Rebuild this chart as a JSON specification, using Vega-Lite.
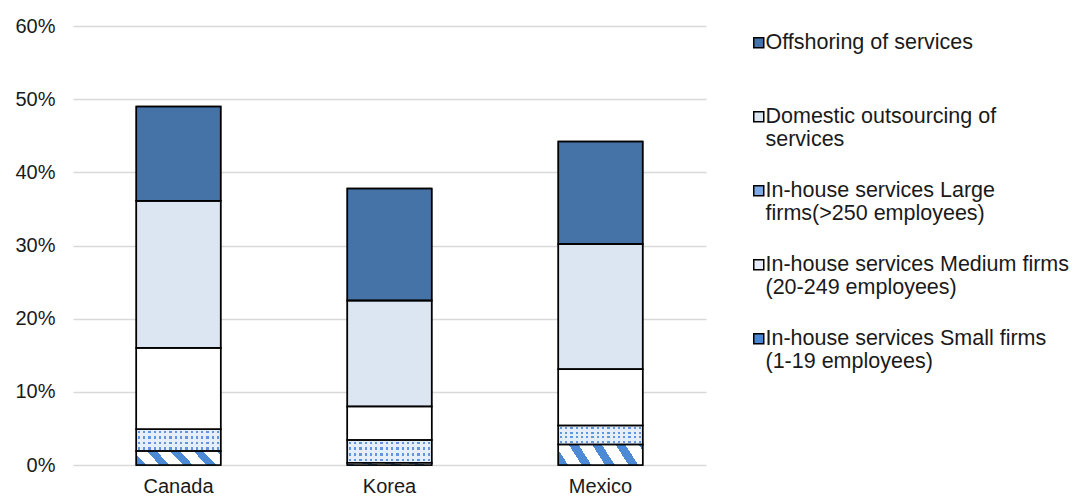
{
  "$schema": "https://vega.github.io/schema/vega-lite/v6.json",
  "width": 633,
  "height": 439,
  "autosize": {"type": "none"},
  "padding": {"left": 73, "top": 26, "right": 366, "bottom": 35},
  "background": "#ffffff",
  "config": {
    "view": {"stroke": null},
    "font": "Liberation Sans",
    "axis": {"labelFont": "Liberation Sans", "labelFontSize": 20, "labelColor": "#1a1a1a", "title": null, "labelOverlap": false},
    "legend": {"labelFont": "Liberation Sans", "labelFontSize": 21.5, "labelColor": "#1a1a1a"},
    "style": {"guide-label": {"lineHeight": 23}}
  },
  "data": {
    "values": [
      {"country": "Canada", "category": "In-house services Small firms (1-19 employees)", "value": 0.019},
      {"country": "Canada", "category": "In-house services Medium firms (20-249 employees)", "value": 0.030},
      {"country": "Canada", "category": "In-house services Large firms(>250 employees)", "value": 0.111},
      {"country": "Canada", "category": "Domestic outsourcing of services", "value": 0.201},
      {"country": "Canada", "category": "Offshoring of services", "value": 0.129},
      {"country": "Korea", "category": "In-house services Small firms (1-19 employees)", "value": 0.003},
      {"country": "Korea", "category": "In-house services Medium firms (20-249 employees)", "value": 0.031},
      {"country": "Korea", "category": "In-house services Large firms(>250 employees)", "value": 0.046},
      {"country": "Korea", "category": "Domestic outsourcing of services", "value": 0.145},
      {"country": "Korea", "category": "Offshoring of services", "value": 0.153},
      {"country": "Mexico", "category": "In-house services Small firms (1-19 employees)", "value": 0.028},
      {"country": "Mexico", "category": "In-house services Medium firms (20-249 employees)", "value": 0.026},
      {"country": "Mexico", "category": "In-house services Large firms(>250 employees)", "value": 0.077},
      {"country": "Mexico", "category": "Domestic outsourcing of services", "value": 0.171},
      {"country": "Mexico", "category": "Offshoring of services", "value": 0.140}
    ]
  },
  "transform": [
    {"calculate": "indexof(['In-house services Small firms (1-19 employees)', 'In-house services Medium firms (20-249 employees)', 'In-house services Large firms(>250 employees)', 'Domestic outsourcing of services', 'Offshoring of services'], datum.category)", "as": "rank"},
    {"stack": "value", "groupby": ["country"], "sort": [{"field": "rank", "order": "ascending"}], "as": ["v0", "v1"]}
  ],
  "encoding": {
    "x": {
      "field": "country", "type": "nominal",
      "scale": {"paddingInner": 0.6, "paddingOuter": 0.3},
      "axis": {"labelAngle": 0, "domain": false, "ticks": false, "tickSize": 0, "labelPadding": 11, "grid": false}
    },
    "y": {
      "field": "v0", "type": "quantitative",
      "scale": {"domain": [0, 0.6], "nice": false},
      "axis": {"format": ".0%", "values": [0, 0.1, 0.2, 0.3, 0.4, 0.5, 0.6], "domain": false, "ticks": false, "tickSize": 0, "labelPadding": 18, "grid": true, "gridColor": "#d9d9d9", "gridWidth": 1.5}
    },
    "y2": {"field": "v1"}
  },
  "layer": [
    {
      "mark": {"type": "bar", "stroke": "#000000", "strokeWidth": 1.5},
      "encoding": {
        "color": {
          "field": "category", "type": "nominal",
          "scale": {
            "domain": ["Offshoring of services", "Domestic outsourcing of services", "In-house services Large firms(>250 employees)", "In-house services Medium firms (20-249 employees)", "In-house services Small firms (1-19 employees)"],
            "range": ["#4572a7", "#dce6f2", "#7fa9e4", "#e4edf9", "#4a86d4"]
          },
          "legend": {
            "title": null,
            "orient": "none",
            "legendX": 675,
            "legendY": 6,
            "padding": 0,
            "symbolType": "square",
            "symbolSize": 100,
            "symbolStrokeColor": "#000000",
            "symbolStrokeWidth": 1.5,
            "symbolOpacity": 1,
            "labelOffset": -4,
            "labelLimit": 400,
            "rowPadding": 28,
            "labelBaseline": "middle",
            "labelExpr": "datum.label == 'Offshoring of services' ? ['Offshoring of services', ''] : datum.label == 'Domestic outsourcing of services' ? ['Domestic outsourcing of', 'services'] : datum.label == 'In-house services Large firms(>250 employees)' ? ['In-house services Large', 'firms(>250 employees)'] : datum.label == 'In-house services Medium firms (20-249 employees)' ? ['In-house services Medium firms', '(20-249 employees)'] : ['In-house services Small firms', '(1-19 employees)']"
          }
        }
      }
    },
    {
      "transform": [{"filter": "datum.category == 'In-house services Large firms(>250 employees)'"}],
      "mark": {"type": "bar", "fill": "#ffffff"}
    },
    {
      "transform": [{"filter": "datum.category == 'In-house services Small firms (1-19 employees)'"}],
      "mark": {
        "type": "bar",
        "fill": {
          "gradient": "linear", "x1": 0, "y1": 1, "x2": 1.128, "y2": 0.825,
          "stops": [
            {"offset": 0, "color": "#4d8ad6"}, {"offset": 0.1, "color": "#4d8ad6"},
            {"offset": 0.1, "color": "#ffffff"}, {"offset": 0.24, "color": "#ffffff"},
            {"offset": 0.24, "color": "#4d8ad6"}, {"offset": 0.34, "color": "#4d8ad6"},
            {"offset": 0.34, "color": "#ffffff"}, {"offset": 0.48, "color": "#ffffff"},
            {"offset": 0.48, "color": "#4d8ad6"}, {"offset": 0.58, "color": "#4d8ad6"},
            {"offset": 0.58, "color": "#ffffff"}, {"offset": 0.72, "color": "#ffffff"},
            {"offset": 0.72, "color": "#4d8ad6"}, {"offset": 0.82, "color": "#4d8ad6"},
            {"offset": 0.82, "color": "#ffffff"}, {"offset": 0.96, "color": "#ffffff"},
            {"offset": 0.96, "color": "#4d8ad6"}, {"offset": 1, "color": "#4d8ad6"}
          ]
        }
      }
    },
    {
      "transform": [{"filter": "datum.category == 'In-house services Medium firms (20-249 employees)'"}],
      "mark": {"type": "bar", "fill": "#6196de"}
    },
    {
      "transform": [{"filter": "datum.category == 'In-house services Medium firms (20-249 employees)'"}],
      "mark": {
        "type": "bar",
        "fill": {
          "gradient": "linear", "x1": 0, "y1": 0, "x2": 0, "y2": 1,
          "stops": [
            {"offset": 0, "color": "#e6eef9"}, {"offset": 0.07, "color": "#e6eef9"},
            {"offset": 0.07, "color": "rgba(230,238,249,0)"}, {"offset": 0.18, "color": "rgba(230,238,249,0)"},
            {"offset": 0.18, "color": "#e6eef9"}, {"offset": 0.32, "color": "#e6eef9"},
            {"offset": 0.32, "color": "rgba(230,238,249,0)"}, {"offset": 0.43, "color": "rgba(230,238,249,0)"},
            {"offset": 0.43, "color": "#e6eef9"}, {"offset": 0.57, "color": "#e6eef9"},
            {"offset": 0.57, "color": "rgba(230,238,249,0)"}, {"offset": 0.68, "color": "rgba(230,238,249,0)"},
            {"offset": 0.68, "color": "#e6eef9"}, {"offset": 0.82, "color": "#e6eef9"},
            {"offset": 0.82, "color": "rgba(230,238,249,0)"}, {"offset": 0.93, "color": "rgba(230,238,249,0)"},
            {"offset": 0.93, "color": "#e6eef9"}, {"offset": 1, "color": "#e6eef9"}
          ]
        }
      }
    },
    {
      "transform": [{"filter": "datum.category == 'In-house services Medium firms (20-249 employees)'"}],
      "mark": {
        "type": "bar",
        "fill": {
          "gradient": "linear", "x1": 0, "y1": 0, "x2": 1, "y2": 0,
          "stops": [
            {"offset": 0, "color": "#e6eef9"}, {"offset": 0.0175, "color": "#e6eef9"},
            {"offset": 0.0175, "color": "rgba(230,238,249,0)"}, {"offset": 0.045, "color": "rgba(230,238,249,0)"},
            {"offset": 0.045, "color": "#e6eef9"}, {"offset": 0.08, "color": "#e6eef9"},
            {"offset": 0.08, "color": "rgba(230,238,249,0)"}, {"offset": 0.1075, "color": "rgba(230,238,249,0)"},
            {"offset": 0.1075, "color": "#e6eef9"}, {"offset": 0.1425, "color": "#e6eef9"},
            {"offset": 0.1425, "color": "rgba(230,238,249,0)"}, {"offset": 0.17, "color": "rgba(230,238,249,0)"},
            {"offset": 0.17, "color": "#e6eef9"}, {"offset": 0.205, "color": "#e6eef9"},
            {"offset": 0.205, "color": "rgba(230,238,249,0)"}, {"offset": 0.2325, "color": "rgba(230,238,249,0)"},
            {"offset": 0.2325, "color": "#e6eef9"}, {"offset": 0.2675, "color": "#e6eef9"},
            {"offset": 0.2675, "color": "rgba(230,238,249,0)"}, {"offset": 0.295, "color": "rgba(230,238,249,0)"},
            {"offset": 0.295, "color": "#e6eef9"}, {"offset": 0.33, "color": "#e6eef9"},
            {"offset": 0.33, "color": "rgba(230,238,249,0)"}, {"offset": 0.3575, "color": "rgba(230,238,249,0)"},
            {"offset": 0.3575, "color": "#e6eef9"}, {"offset": 0.3925, "color": "#e6eef9"},
            {"offset": 0.3925, "color": "rgba(230,238,249,0)"}, {"offset": 0.42, "color": "rgba(230,238,249,0)"},
            {"offset": 0.42, "color": "#e6eef9"}, {"offset": 0.455, "color": "#e6eef9"},
            {"offset": 0.455, "color": "rgba(230,238,249,0)"}, {"offset": 0.4825, "color": "rgba(230,238,249,0)"},
            {"offset": 0.4825, "color": "#e6eef9"}, {"offset": 0.5175, "color": "#e6eef9"},
            {"offset": 0.5175, "color": "rgba(230,238,249,0)"}, {"offset": 0.545, "color": "rgba(230,238,249,0)"},
            {"offset": 0.545, "color": "#e6eef9"}, {"offset": 0.58, "color": "#e6eef9"},
            {"offset": 0.58, "color": "rgba(230,238,249,0)"}, {"offset": 0.6075, "color": "rgba(230,238,249,0)"},
            {"offset": 0.6075, "color": "#e6eef9"}, {"offset": 0.6425, "color": "#e6eef9"},
            {"offset": 0.6425, "color": "rgba(230,238,249,0)"}, {"offset": 0.67, "color": "rgba(230,238,249,0)"},
            {"offset": 0.67, "color": "#e6eef9"}, {"offset": 0.705, "color": "#e6eef9"},
            {"offset": 0.705, "color": "rgba(230,238,249,0)"}, {"offset": 0.7325, "color": "rgba(230,238,249,0)"},
            {"offset": 0.7325, "color": "#e6eef9"}, {"offset": 0.7675, "color": "#e6eef9"},
            {"offset": 0.7675, "color": "rgba(230,238,249,0)"}, {"offset": 0.795, "color": "rgba(230,238,249,0)"},
            {"offset": 0.795, "color": "#e6eef9"}, {"offset": 0.83, "color": "#e6eef9"},
            {"offset": 0.83, "color": "rgba(230,238,249,0)"}, {"offset": 0.8575, "color": "rgba(230,238,249,0)"},
            {"offset": 0.8575, "color": "#e6eef9"}, {"offset": 0.8925, "color": "#e6eef9"},
            {"offset": 0.8925, "color": "rgba(230,238,249,0)"}, {"offset": 0.92, "color": "rgba(230,238,249,0)"},
            {"offset": 0.92, "color": "#e6eef9"}, {"offset": 0.955, "color": "#e6eef9"},
            {"offset": 0.955, "color": "rgba(230,238,249,0)"}, {"offset": 0.9825, "color": "rgba(230,238,249,0)"},
            {"offset": 0.9825, "color": "#e6eef9"}, {"offset": 1, "color": "#e6eef9"}
          ]
        }
      }
    },
    {
      "mark": {"type": "bar", "fill": null, "fillOpacity": 0, "stroke": "#000000", "strokeWidth": 1.5}
    }
  ]
}
